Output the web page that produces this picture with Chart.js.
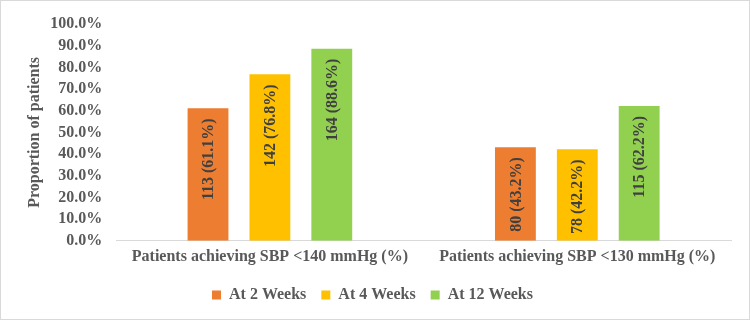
<!DOCTYPE html>
<html><head><meta charset="utf-8">
<script src="https://cdn.jsdelivr.net/npm/chart.js@4/dist/chart.umd.min.js"></script>
<style>
html,body{margin:0;padding:0;background:#fff;}
#wrap{position:relative;width:748px;height:318px;border:1px solid #d9d9d9;}
canvas{display:block;}
</style></head>
<body><div id="wrap"><canvas id="c" width="748" height="318"></canvas></div>
<script>
const categories = ["Patients achieving SBP <140 mmHg (%)", "Patients achieving SBP <130 mmHg (%)"];
const seriesNames = ["At 2 Weeks", "At 4 Weeks", "At 12 Weeks"];
const week2 = [61.1, 43.2];
const week4 = [76.8, 42.2];
const week12 = [88.6, 62.2];
const count2 = [113, 80];
const count4 = [142, 78];
const count12 = [164, 115];
const colors = ["#ED7D31", "#FFC000", "#92D050"];
const FONT = "'Liberation Serif','Times New Roman',serif";

const valueLists = [week2, week4, week12];
const countLists = [count2, count4, count12];

const labelPlugin = {
  id: 'barLabels',
  afterDatasetsDraw(chart) {
    const ctx = chart.ctx;
    chart.data.datasets.forEach((ds, di) => {
      const meta = chart.getDatasetMeta(di);
      meta.data.forEach((bar, i) => {
        const txt = countLists[di][i] + ' (' + valueLists[di][i].toFixed(1) + '%)';
        ctx.save();
        ctx.translate(bar.x, bar.y + 10);
        ctx.rotate(-Math.PI / 2);
        ctx.font = 'bold 16px ' + FONT;
        ctx.fillStyle = '#404040';
        ctx.textAlign = 'right';
        ctx.textBaseline = 'middle';
        ctx.fillText(txt, 0, 1);
        ctx.restore();
      });
    });
  }
};

new Chart(document.getElementById('c'), {
  type: 'bar',
  data: {
    labels: categories,
    datasets: seriesNames.map((n, i) => ({
      label: n,
      data: valueLists[i],
      backgroundColor: colors[i],
      categoryPercentage: 0.604,
      barPercentage: 0.66
    }))
  },
  options: {
    responsive: false,
    animation: false,
    layout: { padding: { top: 23, right: 18, left: 13, bottom: 6 } },
    plugins: {
      legend: {
        position: 'bottom',
        labels: {
          boxWidth: 9, boxHeight: 9, padding: 15,
          color: '#595959',
          font: { family: FONT, size: 16, weight: 'bold' }
        }
      },
      tooltip: { enabled: false }
    },
    scales: {
      x: {
        grid: { display: false, drawTicks: false },
        border: { display: true, color: '#d9d9d9', width: 1 },
        ticks: { color: '#595959', font: { family: FONT, size: 16, weight: 'bold' }, padding: 6 }
      },
      y: {
        min: 0, max: 100,
        grid: { display: false },
        border: { display: false },
        ticks: {
          stepSize: 10,
          autoSkip: false,
          color: '#595959',
          padding: 6,
          font: { family: FONT, size: 16, weight: 'bold' },
          callback: v => v.toFixed(1) + '%'
        },
        title: {
          display: true, text: 'Proportion of patients',
          color: '#595959', padding: { top: 11, bottom: 0 },
          font: { family: FONT, size: 16, weight: 'bold' }
        }
      }
    }
  },
  plugins: [labelPlugin]
});
</script></body></html>
